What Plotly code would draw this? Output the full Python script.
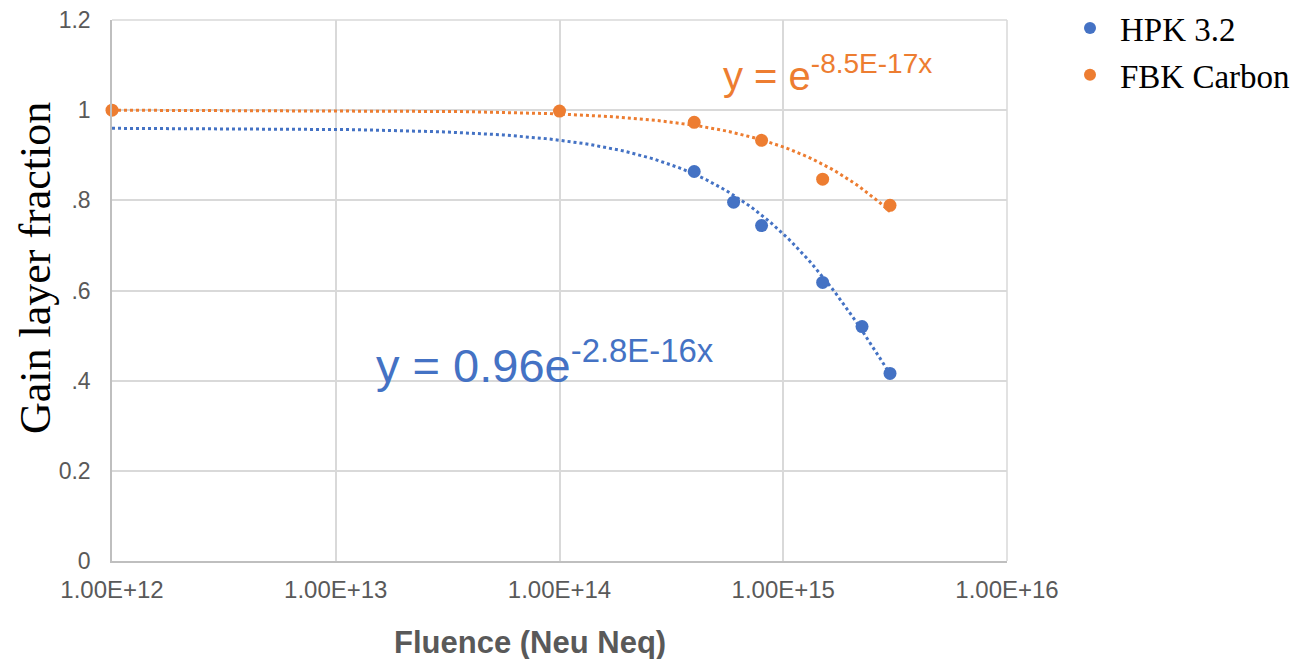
import numpy as np
import plotly.graph_objects as go

# ---- data ----
hpk_fluence = [4.0e14, 6.0e14, 8.0e14, 1.5e15, 2.25e15, 3.0e15]
hpk_fraction = [0.864, 0.796, 0.744, 0.618, 0.520, 0.416]

fbk_fluence = [1.0e12, 1.0e14, 4.0e14, 8.0e14, 1.5e15, 3.0e15]
fbk_fraction = [1.000, 0.998, 0.973, 0.933, 0.847, 0.789]

# exponential trendline coefficients shown on the chart
hpk_fit_a, hpk_fit_b = 0.96, -2.8e-16
fbk_fit_a, fbk_fit_b = 1.0, -8.5e-17
fit_range = [1.0e12, 3.0e15]

x_tickvals = [1e12, 1e13, 1e14, 1e15, 1e16]
x_ticktext = ["1.00E+12", "1.00E+13", "1.00E+14", "1.00E+15", "1.00E+16"]
y_tickvals = [0, 0.2, 0.4, 0.6, 0.8, 1.0, 1.2]
y_ticktext = ["0", "0.2", ".4", ".6", ".8", "1", "1.2"]

BLUE = "#4472C4"
ORANGE = "#ED7D31"
GRID = "#D9D9D9"
TICK = "#595959"
SANS = "Liberation Sans, Arial, sans-serif"
SERIF = "Liberation Serif, Times New Roman, serif"

fit_x = np.logspace(np.log10(fit_range[0]), np.log10(fit_range[1]), 200)

fig = go.Figure()

fig.add_trace(go.Scatter(
    x=fit_x, y=hpk_fit_a * np.exp(hpk_fit_b * fit_x), mode="lines",
    line=dict(color=BLUE, width=3, dash="dot"), showlegend=False,
    hoverinfo="skip", cliponaxis=False))
fig.add_trace(go.Scatter(
    x=fit_x, y=fbk_fit_a * np.exp(fbk_fit_b * fit_x), mode="lines",
    line=dict(color=ORANGE, width=3, dash="dot"), showlegend=False,
    hoverinfo="skip", cliponaxis=False))

fig.add_trace(go.Scatter(
    x=hpk_fluence, y=hpk_fraction, mode="markers", name="HPK 3.2",
    marker=dict(color=BLUE, size=13), cliponaxis=False, legendgroup="a"))
fig.add_trace(go.Scatter(
    x=fbk_fluence, y=fbk_fraction, mode="markers", name="FBK Carbon",
    marker=dict(color=ORANGE, size=13), cliponaxis=False, legendgroup="b"))

fig.update_layout(
    width=1292, height=659,
    margin=dict(l=112, r=285, t=20, b=98, autoexpand=False),
    paper_bgcolor="white", plot_bgcolor="white",
    font=dict(family=SANS, color=TICK),
    legend=dict(
        xref="container", yref="container",
        x=1060 / 1292, y=1.0, xanchor="left", yanchor="top",
        font=dict(family=SERIF, size=33, color="black"),
        tracegroupgap=1, itemsizing="constant", itemwidth=50,
        bgcolor="rgba(0,0,0,0)",
    ),
    xaxis=dict(
        type="log", range=[11.99999, 16],
        tickvals=x_tickvals, ticktext=x_ticktext,
        tickfont=dict(size=24, color=TICK),
        showgrid=True, gridcolor=GRID, gridwidth=1.5,
        showline=True, linecolor="#BFBFBF", linewidth=1.5,
        ticks="", ticklabelstandoff=6, automargin=False,
        zeroline=False,
    ),
    yaxis=dict(
        range=[0, 1.2],
        tickvals=y_tickvals, ticktext=y_ticktext,
        tickfont=dict(size=23, color=TICK),
        showgrid=True, gridcolor=GRID, gridwidth=1.5,
        showline=True, linecolor="#BFBFBF", linewidth=1.5,
        ticks="", ticklabelstandoff=15, automargin=False,
        zeroline=False,
    ),
    shapes=[dict(type="line", xref="paper", yref="paper", x0=1, x1=1, y0=0, y1=1,
                 line=dict(color=GRID, width=1.5)),
            dict(type="line", xref="paper", yref="paper", x0=0, x1=1, y0=1, y1=1,
                 line=dict(color=GRID, width=1.5))],
    annotations=[
        dict(text="Fluence (Neu Neq)", xref="paper", yref="paper",
             x=(530 - 112) / 895, y=(561 - 642) / 541, xanchor="center", yanchor="middle",
             showarrow=False,
             font=dict(family=SANS, size=31, color=TICK, weight="bold")),
        dict(text="Gain layer fraction", xref="paper", yref="paper",
             x=(35 - 112) / 895, y=(561 - 268) / 541, xanchor="center", yanchor="middle",
             textangle=-90, showarrow=False,
             font=dict(family=SERIF, size=44, color="black")),
        dict(text="y = 0.96e<sup>-2.8E-16x</sup>", xref="paper", yref="paper",
             x=(545 - 112) / 895, y=(561 - 362) / 541, xanchor="center", yanchor="middle",
             showarrow=False,
             font=dict(family=SANS, size=47, color=BLUE)),
        dict(text="y = e<sup>-8.5E-17x</sup>", xref="paper", yref="paper",
             x=(827 - 112) / 895, y=(561 - 73) / 541, xanchor="center", yanchor="middle",
             showarrow=False,
             font=dict(family=SANS, size=40, color=ORANGE)),
    ],
)

fig.write_html("out.html", post_script="document.body.style.margin='0';",
               config={"displayModeBar": False})
